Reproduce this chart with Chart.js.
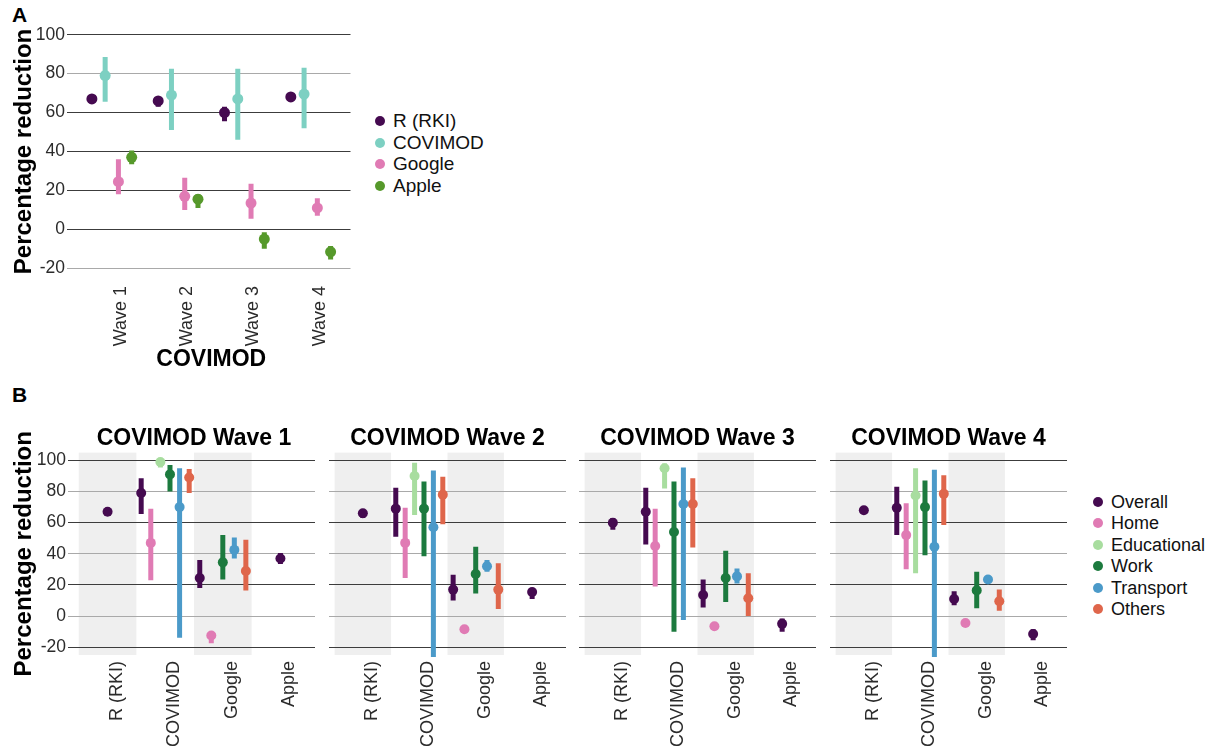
<!DOCTYPE html>
<html>
<head>
<meta charset="utf-8">
<script src="https://cdn.jsdelivr.net/npm/chart.js@4.4.1/dist/chart.umd.min.js"></script>
<style>
  body { margin: 0; background: #fff; width: 1217px; height: 753px; position: relative; overflow: hidden;
         font-family: "Liberation Sans", Arial, sans-serif; }
  canvas { position: absolute; }
  .tag { position: absolute; left: 12px; font-size: 21px; font-weight: bold; line-height: 21px; color: #000; }
  .leg { position: absolute; line-height: 20px; color: #111; white-space: nowrap; }
  .leg span { position: absolute; width: 10px; height: 10px; border-radius: 50%; left: -18px; top: 5px; }
</style>
</head>
<body>
<div class="tag" style="top:4px">A</div>
<div class="tag" style="top:384px">B</div>
<canvas id="chartA" width="356" height="380" style="left:0;top:0"></canvas>
<canvas id="facet0" width="320" height="333" style="left:0;top:420px"></canvas>
<canvas id="facet1" width="247" height="333" style="left:323.5px;top:420px"></canvas>
<canvas id="facet2" width="247" height="333" style="left:574px;top:420px"></canvas>
<canvas id="facet3" width="247" height="333" style="left:824.5px;top:420px"></canvas>
<div id="legendA"></div>
<div id="legendB"></div>

<script>
const waves = ['Wave 1', 'Wave 2', 'Wave 3', 'Wave 4'];
const sources = ['R (RKI)', 'COVIMOD', 'Google', 'Apple'];
const settings = ['Overall', 'Home', 'Educational', 'Work', 'Transport', 'Others'];
const yTicks = [-20, 0, 20, 40, 60, 80, 100];

// one row per wave, columns: R (RKI), COVIMOD, Google, Apple
const overallMid  = [[67, 79, 24.5, 37], [66, 69, 17, 15.5], [60, 67, 13.5, -5], [68, 69.5, 11, -11.5]];
const overallLow  = [[66, 65.5, 18, 33.5], [63, 51, 10, 11], [55.5, 46, 5.5, -10], [67, 52, 7, -15.5]];
const overallHigh = [[68.5, 88.5, 36, 40.5], [68, 82.5, 26.5, 18], [63, 82.5, 23.5, -1.5], [69.5, 83, 16, -8.5]];

const homeMid  = [[null, 47, -12.5, null], [null, 47, -8.5, null], [null, 45, -6.5, null], [null, 52, -4.5, null]];
const homeLow  = [[null, 23, -17.5, null], [null, 24.5, -9.5, null], [null, 19, -7.5, null], [null, 30, -5.5, null]];
const homeHigh = [[null, 69, -11, null], [null, 69.5, -7.5, null], [null, 69, -5.5, null], [null, 72.5, -3.5, null]];

const eduMid  = [[null, 99, null, null], [null, 90, null, null], [null, 95, null, null], [null, 77.5, null, null]];
const eduLow  = [[null, 95.5, null, null], [null, 65, null, null], [null, 82, null, null], [null, 27.5, null, null]];
const eduHigh = [[null, 101, null, null], [null, 98.5, null, null], [null, 98, null, null], [null, 95, null, null]];

const workMid  = [[null, 91, 34.5, null], [null, 69, 27, null], [null, 54, 24.5, null], [null, 70, 16.5, null]];
const workLow  = [[null, 80, 23.5, null], [null, 38.5, 14.5, null], [null, -10, 9, null], [null, 39, 5, null]];
const workHigh = [[null, 97, 52, null], [null, 86.5, 44.5, null], [null, 86.5, 42, null], [null, 87, 28.5, null]];

const transportMid  = [[null, 70, 42.5, null], [null, 57, 32, null], [null, 72, 25.5, null], [null, 44.5, 23.5, null]];
const transportLow  = [[null, -14, 37, null], [null, -28, 28.5, null], [null, -2.5, 21, null], [null, -28, 21.5, null]];
const transportHigh = [[null, 95, 50.5, null], [null, 93.5, 36, null], [null, 95.5, 30.5, null], [null, 94, 25.5, null]];

const othersMid  = [[null, 89, 29, null], [null, 78, 17, null], [null, 72, 11.5, null], [null, 78.5, 9.5, null]];
const othersLow  = [[null, 79, 16.5, null], [null, 59, 4.5, null], [null, 44, 0, null], [null, 58.5, 3.5, null]];
const othersHigh = [[null, 94.5, 49, null], [null, 89.5, 34, null], [null, 88.5, 27.5, null], [null, 90.5, 17, null]];

const sourceColors = ['#450a50', '#7dd0c2', '#e07bb4', '#56992b'];
const settingColors = ['#450a50', '#e07bb4', '#a8dd9f', '#1c7a3e', '#4b9ac9', '#df664b'];

const settingData = [
  [overallMid, overallLow, overallHigh],
  [homeMid, homeLow, homeHigh],
  [eduMid, eduLow, eduHigh],
  [workMid, workLow, workHigh],
  [transportMid, transportLow, transportHigh],
  [othersMid, othersLow, othersHigh]
];

Chart.defaults.font.family = '"Liberation Sans", Arial, sans-serif';
Chart.defaults.animation = false;
Chart.defaults.events = [];

// vertical interval lines under the points
const errorBars = {
  id: 'errorBars',
  beforeDatasetsDraw(chart) {
    const {ctx, chartArea, scales: {x, y}} = chart;
    ctx.save();
    ctx.beginPath();
    ctx.rect(chartArea.left, chartArea.top - 2, chartArea.width, chartArea.height + 4);
    ctx.clip();
    ctx.lineWidth = 5;
    chart.data.datasets.forEach(ds => {
      ctx.strokeStyle = ds.backgroundColor;
      ds.data.forEach(p => {
        if (p.lo == null) return;
        const px = x.getPixelForValue(p.x);
        ctx.beginPath();
        ctx.moveTo(px, y.getPixelForValue(p.lo));
        ctx.lineTo(px, y.getPixelForValue(p.hi));
        ctx.stroke();
      });
    });
    ctx.restore();
  }
};

// grey background columns behind R (RKI) and Google
const bands = {
  id: 'bands',
  beforeDraw(chart, args, opts) {
    if (!opts.columns) return;
    const {ctx, chartArea, scales: {x}} = chart;
    ctx.save();
    ctx.fillStyle = '#efefef';
    opts.columns.forEach(c => {
      const l = x.getPixelForValue(c - 0.5), r = x.getPixelForValue(c + 0.5);
      ctx.fillRect(l, chartArea.top, r - l, chartArea.height);
    });
    ctx.restore();
  }
};

function yAxis(min, max, width, showLabels, lightLines) {
  return {
    type: 'linear', min: min, max: max,
    afterBuildTicks: s => { s.ticks = yTicks.map(v => ({value: v})); },
    afterFit: s => { s.width = width; },
    border: {display: false},
    grid: {
      drawTicks: showLabels, tickLength: 5, lineWidth: 1,
      color: c => lightLines.includes(c.tick.value) ? '#a9a9a9' : '#3c3c3c'
    },
    ticks: {display: showLabels, padding: 2, color: '#2b2b2b', font: {size: 17.5}},
    title: {display: showLabels, text: 'Percentage reduction', color: '#000',
            font: {size: 24, weight: 'bold'}, padding: {top: 10, bottom: 0}}
  };
}

function xAxis(labels, height, titleText) {
  return {
    type: 'linear', min: 0.4, max: 4.6,
    afterBuildTicks: s => { s.ticks = labels.map((l, i) => ({value: i + 1})); },
    afterFit: s => { s.height = height; },
    border: {display: false},
    grid: {display: false},
    ticks: {minRotation: 90, maxRotation: 90, autoSkip: false, padding: -2, labelOffset: 9,
            color: '#2b2b2b', font: {size: 18}, callback: v => labels[Math.round(v) - 1]},
    title: {display: !!titleText, text: titleText || '', color: '#000',
            font: {size: 23, weight: 'bold'}, padding: {top: 0, bottom: 7}}
  };
}

// panel A: overall estimate of every source, dodged within each wave
const datasetsA = sources.map((name, s) => ({
  label: name,
  data: waves.map((w, i) => ({
    x: i + 1 + (s - 1.5) * 0.2,
    y: overallMid[i][s], lo: overallLow[i][s], hi: overallHigh[i][s]
  })),
  backgroundColor: sourceColors[s],
  pointRadius: 5.5, borderWidth: 0
}));

new Chart(document.getElementById('chartA'), {
  type: 'scatter',
  data: {datasets: datasetsA},
  options: {
    responsive: false,
    layout: {padding: {top: 23, left: 0, right: 0, bottom: 0}},
    plugins: {legend: {display: false}, tooltip: {enabled: false}},
    scales: {
      x: xAxis(waves, 100, 'COVIMOD'),
      y: yAxis(-26, 106, 72, true, [80, -20])
    }
  },
  plugins: [errorBars]
});

// panel B: one facet per wave, settings dodged inside each source
waves.forEach((wave, w) => {
  const datasets = settings.map((name, k) => {
    const [mid, low, high] = settingData[k];
    const data = [];
    sources.forEach((src, c) => {
      if (mid[w][c] == null) return;
      const present = settingData.map((d, j) => j).filter(j => settingData[j][0][w][c] != null);
      const n = present.length, idx = present.indexOf(k);
      data.push({x: c + 1 + (idx - (n - 1) / 2) / n, y: mid[w][c], lo: low[w][c], hi: high[w][c]});
    });
    return {label: name, data: data, backgroundColor: settingColors[k], pointRadius: 5, borderWidth: 0};
  });

  new Chart(document.getElementById('facet' + w), {
    type: 'scatter',
    data: {datasets: datasets},
    options: {
      responsive: false,
      layout: {padding: 0},
      plugins: {
        legend: {display: false}, tooltip: {enabled: false},
        title: {display: true, text: 'COVIMOD ' + wave, fullSize: false, color: '#000',
                font: {size: 23, weight: 'bold'}, padding: {top: 5, bottom: 0}},
        bands: {columns: [1, 3]}
      },
      scales: {
        x: xAxis(sources, 98, null),
        y: yAxis(-25, 105, w === 0 ? 73 : 0, w === 0, [80, 40, 0])
      }
    },
    plugins: [bands, errorBars]
  });
});

function buildLegend(id, names, colors, left, top, step, size) {
  const box = document.getElementById(id);
  names.forEach((name, i) => {
    const el = document.createElement('div');
    el.className = 'leg';
    el.style.left = left + 'px';
    el.style.top = (top + i * step - 10) + 'px';
    el.style.fontSize = size + 'px';
    el.innerHTML = '<span style="background:' + colors[i] + '"></span>' + name;
    box.appendChild(el);
  });
}
buildLegend('legendA', sources, sourceColors, 393, 121, 21.7, 19);
buildLegend('legendB', settings, settingColors, 1111, 502, 21.4, 18);
</script>
</body>
</html>
